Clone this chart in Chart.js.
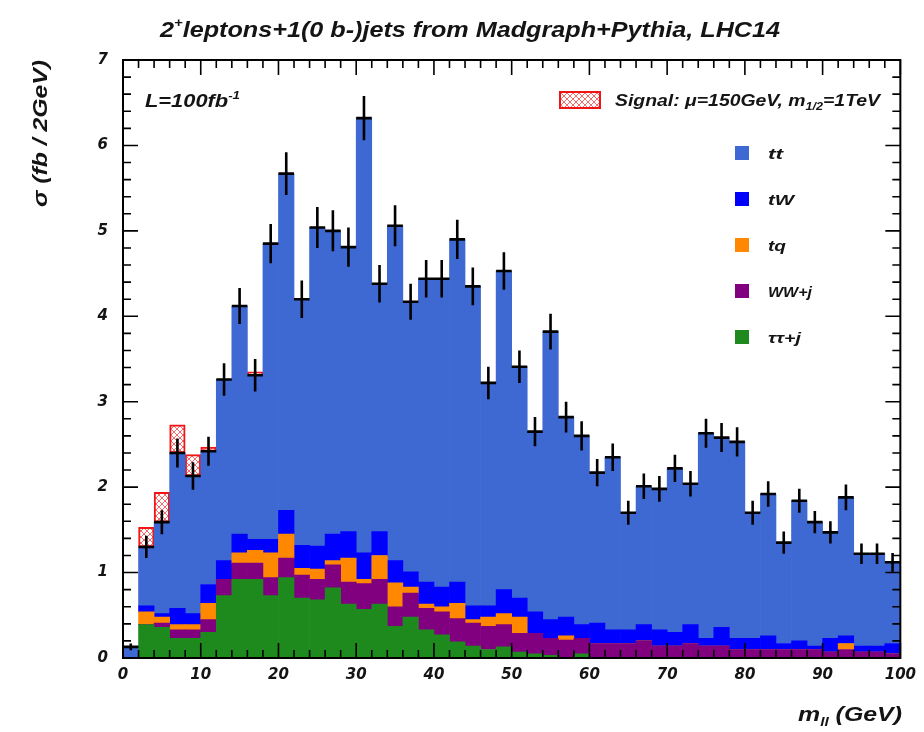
<!DOCTYPE html>
<html>
<head>
<meta charset="utf-8">
<script src="https://cdn.jsdelivr.net/npm/chart.js@4.4.1/dist/chart.umd.min.js"></script>
<style>
  html, body { margin: 0; padding: 0; background: #fff; }
  #wrap { width: 924px; height: 732px; }
</style>
</head>
<body>
<div id="wrap"><canvas id="mll" width="924" height="732"></canvas></div>
<script>
// m_ll bins, 2 GeV wide, centres
const binCenters = Array.from({ length: 50 }, (_, i) => 2 * i + 1);

// stacked backgrounds, fb / 2GeV (bottom to top)
const tautauJ = [0, 0.39, 0.36, 0.23, 0.23, 0.30, 0.73, 0.92, 0.92, 0.73,
  0.94, 0.70, 0.68, 0.82, 0.63, 0.57, 0.63, 0.37, 0.48, 0.33,
  0.27, 0.19, 0.14, 0.10, 0.13, 0.07, 0.05, 0.03, 0, 0.05,
  0, 0, 0, 0, 0, 0, 0, 0, 0, 0,
  0, 0, 0, 0, 0, 0, 0, 0, 0, 0];
const wwJ = [0, 0, 0.05, 0.10, 0.10, 0.15, 0.19, 0.19, 0.19, 0.21,
  0.23, 0.27, 0.24, 0.27, 0.26, 0.30, 0.29, 0.23, 0.28, 0.25,
  0.27, 0.27, 0.27, 0.27, 0.26, 0.22, 0.24, 0.20, 0.21, 0.18,
  0.17, 0.17, 0.17, 0.20, 0.14, 0.14, 0.17, 0.14, 0.14, 0.10,
  0.10, 0.10, 0.10, 0.10, 0.10, 0.07, 0.10, 0.07, 0.07, 0.05];
const tq = [0, 0.15, 0.07, 0.06, 0.06, 0.19, 0, 0.12, 0.15, 0.29,
  0.28, 0.08, 0.12, 0.05, 0.28, 0.05, 0.28, 0.28, 0.07, 0.05,
  0.06, 0.18, 0.04, 0.11, 0.13, 0.19, 0, 0, 0.05, 0,
  0, 0, 0, 0, 0, 0, 0, 0, 0, 0,
  0, 0, 0, 0, 0, 0, 0.07, 0, 0, 0];
const tW = [0, 0.07, 0.04, 0.19, 0.13, 0.22, 0.22, 0.22, 0.13, 0.16,
  0.28, 0.27, 0.27, 0.31, 0.31, 0.31, 0.28, 0.26, 0.18, 0.26,
  0.23, 0.25, 0.16, 0.13, 0.28, 0.22, 0.25, 0.22, 0.22, 0.16,
  0.24, 0.16, 0.16, 0.19, 0.19, 0.16, 0.22, 0.09, 0.22, 0.13,
  0.13, 0.16, 0.07, 0.10, 0.04, 0.16, 0.09, 0.07, 0.07, 0.12];
const ttbar = [0.13, 0.69, 1.07, 1.82, 1.61, 1.56, 2.12, 2.67, 1.92, 3.46,
  3.94, 2.88, 3.73, 3.55, 3.33, 5.09, 2.90, 3.92, 3.16, 3.55,
  3.61, 4.01, 3.74, 2.61, 3.73, 2.71, 2.11, 3.37, 2.34, 2.21,
  1.76, 2.02, 1.37, 1.62, 1.65, 1.92, 1.65, 2.40, 2.22, 2.30,
  1.47, 1.66, 1.18, 1.64, 1.45, 1.24, 1.62, 1.08, 1.08, 0.95];
// signal on top of the stack
const signal = [null, 0.23, 0.35, 0.33, 0.25, 0.05, null, null, 0.04, null,
  null, null, null, null, null, null, null, null, null, null,
  null, null, null, null, null, null, null, null, null, null,
  null, null, null, null, null, null, null, null, null, null,
  null, null, null, null, null, null, null, null, null, null];
// stat. error on the summed background
const bgError = [0.04, 0.13, 0.14, 0.17, 0.16, 0.17, 0.19, 0.21, 0.19, 0.23,
  0.25, 0.22, 0.24, 0.24, 0.23, 0.26, 0.22, 0.24, 0.21, 0.22,
  0.22, 0.23, 0.22, 0.19, 0.22, 0.19, 0.17, 0.21, 0.18, 0.17,
  0.16, 0.16, 0.14, 0.15, 0.15, 0.16, 0.15, 0.17, 0.17, 0.17,
  0.14, 0.15, 0.13, 0.14, 0.13, 0.13, 0.15, 0.12, 0.12, 0.11];

const FAMILY = '"Liberation Sans", Arial, sans-serif';
const INK = '#141414';

const COLORS = {
  tt: 'rgb(62, 104, 210)',
  tW: 'rgb(0, 0, 255)',
  tq: 'rgb(255, 136, 0)',
  ww: 'rgb(128, 0, 128)',
  tau: 'rgb(30, 138, 30)',
  sig: 'rgb(240, 20, 20)'
};

function hatchPattern() {
  const c = document.createElement('canvas');
  c.width = 6; c.height = 6;
  const g = c.getContext('2d');
  g.fillStyle = '#fff';
  g.fillRect(0, 0, 6, 6);
  g.strokeStyle = 'rgba(240, 70, 70, 0.8)';
  g.lineWidth = 1;
  g.beginPath();
  g.moveTo(0, 0); g.lineTo(6, 6);
  g.moveTo(6, 0); g.lineTo(0, 6);
  g.stroke();
  return g.createPattern(c, 'repeat');
}
const HATCH = hatchPattern();

const pts = arr => arr.map((v, i) => ({ x: binCenters[i], y: v }));

function layer(label, arr, color) {
  return {
    label: label,
    data: pts(arr),
    backgroundColor: color,
    borderWidth: 0,
    barPercentage: 1,
    categoryPercentage: 1
  };
}

// rich text: pieces [text, size, dy], stretched to fit a width (ROOT fonts are wide)
function richText(ctx, pieces, x, y, width, rotate) {
  ctx.save();
  let total = 0;
  pieces.forEach(p => {
    ctx.font = 'italic bold ' + p[1] + 'px ' + FAMILY;
    total += ctx.measureText(p[0]).width;
  });
  const sx = width / total;
  ctx.translate(x, y);
  if (rotate) ctx.rotate(-Math.PI / 2);
  ctx.scale(sx, 1);
  ctx.fillStyle = INK;
  ctx.textBaseline = 'alphabetic';
  ctx.textAlign = 'left';
  let cx = 0;
  pieces.forEach(p => {
    ctx.font = 'italic bold ' + p[1] + 'px ' + FAMILY;
    ctx.fillText(p[0], cx, p[2] || 0);
    cx += ctx.measureText(p[0]).width;
  });
  ctx.restore();
}

const errorBars = {
  id: 'errorBars',
  afterDatasetsDraw(chart) {
    const ctx = chart.ctx;
    const y = chart.scales.y;
    const meta = chart.getDatasetMeta(4); // tt is top of the background stack
    ctx.save();
    ctx.strokeStyle = '#000';
    ctx.lineWidth = 2.6;
    meta.data.forEach((el, i) => {
      const e = Math.abs(y.getPixelForValue(bgError[i]) - y.getPixelForValue(0));
      ctx.beginPath();
      ctx.moveTo(el.x, el.y - e);
      ctx.lineTo(el.x, el.y + e);
      ctx.moveTo(el.x - el.width / 2, el.y);
      ctx.lineTo(el.x + el.width / 2, el.y);
      ctx.stroke();
    });
    ctx.restore();
  }
};

const frameAndText = {
  id: 'frameAndText',
  afterDraw(chart) {
    const ctx = chart.ctx;
    const a = chart.chartArea;
    const x = chart.scales.x, y = chart.scales.y;
    ctx.save();
    ctx.strokeStyle = '#000';
    ctx.lineWidth = 1.6;
    ctx.beginPath();
    for (let k = 0; k <= 50; k++) {
      const px = x.getPixelForValue(2 * k);
      const len = (k % 5 === 0) ? 15 : 8;
      ctx.moveTo(px, a.bottom); ctx.lineTo(px, a.bottom - len);
      ctx.moveTo(px, a.top); ctx.lineTo(px, a.top + len);
    }
    for (let k = 0; k <= 35; k++) {
      const py = y.getPixelForValue(k / 5);
      const len = (k % 5 === 0) ? 15 : 8;
      ctx.moveTo(a.left, py); ctx.lineTo(a.left + len, py);
      ctx.moveTo(a.right, py); ctx.lineTo(a.right - len, py);
    }
    ctx.stroke();
    ctx.lineWidth = 2;
    ctx.strokeRect(a.left, a.top, a.right - a.left, a.bottom - a.top);
    ctx.restore();

    // title and axis titles
    richText(ctx, [['2', 22, 0], ['+', 13, -10], ['leptons+1(0 b-)jets from Madgraph+Pythia, LHC14', 22, 0]], 160, 37, 620);
    richText(ctx, [['σ (fb / 2GeV)', 21, 0]], 47, 207, 147, true);
    richText(ctx, [['m', 21, 0], ['ll', 13, 5], [' (GeV)', 21, 0]], 798, 721, 104);

    // luminosity
    richText(ctx, [['L=100fb', 18, 0], ['-1', 11, -8]], 145, 107, 95);

    // signal legend entry
    ctx.save();
    ctx.fillStyle = HATCH;
    ctx.fillRect(559, 91, 42, 18);
    ctx.strokeStyle = COLORS.sig;
    ctx.lineWidth = 2;
    ctx.strokeRect(560, 92, 40, 16);
    ctx.restore();
    richText(ctx, [['Signal: μ=150GeV, m', 17, 0], ['1/2', 11, 4], ['=1TeV', 17, 0]], 615, 106, 265);

    // background legend
    const entries = [
      ['tt', COLORS.tt, 15], ['tW', COLORS.tW, 26], ['tq', COLORS.tq, 18],
      ['WW+j', COLORS.ww, 44], ['ττ+j', COLORS.tau, 33]
    ];
    entries.forEach((e, i) => {
      const cy = 153 + i * 46;
      ctx.fillStyle = e[1];
      ctx.fillRect(735, cy - 7, 14, 14);
      richText(ctx, [[e[0], 15, 0]], 768, cy + 6, e[2]);
    });
  }
};

new Chart(document.getElementById('mll'), {
  type: 'bar',
  data: {
    datasets: [
      layer('ττ+j', tautauJ, COLORS.tau),
      layer('WW+j', wwJ, COLORS.ww),
      layer('tq', tq, COLORS.tq),
      layer('tW', tW, COLORS.tW),
      layer('tt', ttbar, COLORS.tt),
      {
        label: 'Signal',
        data: pts(signal),
        backgroundColor: HATCH,
        borderColor: COLORS.sig,
        borderWidth: 2,
        borderSkipped: false,
        barPercentage: 1,
        categoryPercentage: 1
      }
    ]
  },
  options: {
    responsive: false,
    animation: false,
    devicePixelRatio: 1,
    layout: { padding: { top: 60, right: 21, left: 0, bottom: 0 } },
    plugins: {
      legend: { display: false },
      tooltip: { enabled: false },
      title: { display: false }
    },
    scales: {
      x: {
        type: 'linear',
        stacked: true,
        offset: false,
        min: 0,
        max: 100,
        grid: { display: false, drawTicks: false },
        border: { display: false },
        ticks: {
          stepSize: 10,
          autoSkip: false,
          maxRotation: 0,
          padding: 8,
          color: INK,
          font: { family: '"DejaVu Sans"', size: 15, style: 'oblique', weight: 'bold' }
        },
        afterFit: s => { s.height = 74; }
      },
      y: {
        stacked: true,
        min: 0,
        max: 7,
        grid: { display: false, drawTicks: false },
        border: { display: false },
        ticks: {
          stepSize: 1,
          padding: 15,
          color: INK,
          font: { family: '"DejaVu Sans"', size: 15, style: 'oblique', weight: 'bold' }
        },
        afterFit: s => { s.width = 123; }
      }
    }
  },
  plugins: [errorBars, frameAndText]
});
</script>
</body>
</html>
